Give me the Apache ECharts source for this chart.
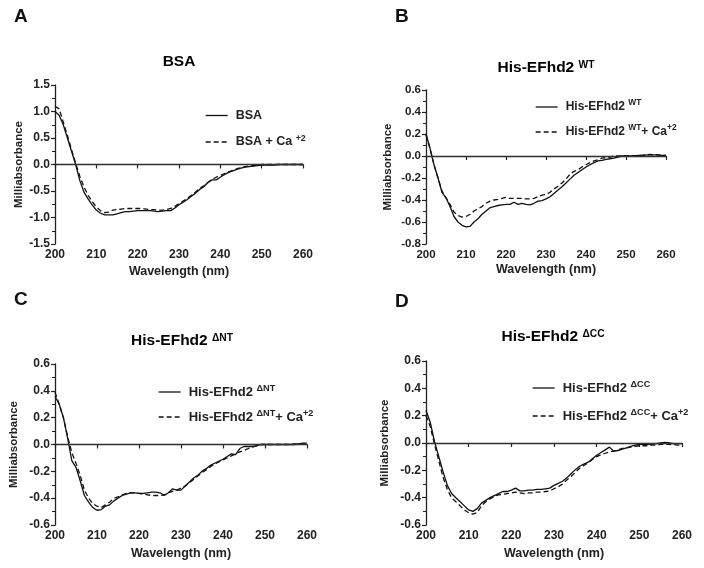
<!DOCTYPE html>
<html><head><meta charset="utf-8">
<script src="https://cdn.jsdelivr.net/npm/echarts@6/dist/echarts.min.js"></script>
<style>html,body{margin:0;padding:0;background:#fff}#c{width:704px;height:568px}</style>
</head><body><div id="c"></div>
<script>
const wavelengths = [200,201,202,203,204,205,206,207,208,209,210,211,212,213,214,215,216,217,218,219,220,221,222,223,224,225,226,227,228,229,230,231,232,233,234,235,236,237,238,239,240,241,242,243,244,245,246,247,248,249,250,251,252,253,254,255,256,257,258,259,260];
const xTicks = [200,210,220,230,240,250,260];

const bsa = [1.00,0.93,0.75,0.50,0.25,0.00,-0.30,-0.52,-0.65,-0.76,-0.86,-0.92,-0.95,-0.95,-0.95,-0.93,-0.91,-0.89,-0.89,-0.88,-0.87,-0.87,-0.87,-0.87,-0.88,-0.89,-0.88,-0.87,-0.87,-0.82,-0.76,-0.71,-0.66,-0.60,-0.54,-0.47,-0.42,-0.34,-0.29,-0.29,-0.24,-0.19,-0.15,-0.12,-0.09,-0.07,-0.05,-0.04,-0.03,-0.02,-0.01,-0.01,-0.01,-0.01,0,0,0,0,0,0,0];
const bsaCa = [1.10,1.05,0.80,0.55,0.28,0.02,-0.22,-0.42,-0.58,-0.70,-0.80,-0.87,-0.91,-0.90,-0.86,-0.85,-0.84,-0.83,-0.83,-0.83,-0.83,-0.83,-0.84,-0.85,-0.85,-0.86,-0.86,-0.85,-0.83,-0.79,-0.74,-0.69,-0.64,-0.58,-0.52,-0.45,-0.40,-0.34,-0.28,-0.24,-0.21,-0.17,-0.14,-0.11,-0.08,-0.06,-0.04,-0.03,-0.02,-0.01,0,0,0,0,0,0,0,0,0,0,0];

const wt = [0.20,0.07,-0.08,-0.20,-0.33,-0.38,-0.46,-0.55,-0.60,-0.63,-0.645,-0.64,-0.60,-0.57,-0.53,-0.50,-0.47,-0.46,-0.45,-0.445,-0.44,-0.44,-0.42,-0.44,-0.43,-0.44,-0.445,-0.43,-0.41,-0.405,-0.39,-0.37,-0.34,-0.31,-0.28,-0.245,-0.21,-0.175,-0.15,-0.125,-0.10,-0.08,-0.06,-0.045,-0.04,-0.03,-0.025,-0.02,-0.01,0,0,0,0,0.005,0.005,0.01,0.01,0.01,0.01,0.005,0.005];
const wtCa = [0.19,0.07,-0.08,-0.20,-0.32,-0.38,-0.44,-0.51,-0.54,-0.555,-0.55,-0.53,-0.50,-0.48,-0.46,-0.43,-0.41,-0.40,-0.395,-0.385,-0.375,-0.385,-0.385,-0.385,-0.385,-0.39,-0.39,-0.385,-0.37,-0.355,-0.35,-0.33,-0.30,-0.275,-0.245,-0.21,-0.165,-0.14,-0.125,-0.10,-0.08,-0.06,-0.045,-0.035,-0.02,-0.015,-0.01,0,0,0,0,0,0,0.005,0.005,0.01,0.015,0.01,0.01,0.005,0.005];

const nt = [0.36,0.30,0.20,0.05,-0.12,-0.17,-0.27,-0.38,-0.43,-0.47,-0.49,-0.485,-0.46,-0.45,-0.42,-0.40,-0.38,-0.37,-0.36,-0.36,-0.365,-0.365,-0.36,-0.355,-0.355,-0.36,-0.38,-0.36,-0.33,-0.34,-0.34,-0.31,-0.28,-0.25,-0.23,-0.20,-0.18,-0.155,-0.14,-0.125,-0.11,-0.09,-0.07,-0.075,-0.03,-0.015,-0.015,-0.015,-0.01,0,0,0,0,0,0,0,0,0,0.005,0.01,0.01];
const ntCa = [0.39,0.30,0.20,0.06,-0.06,-0.14,-0.23,-0.34,-0.40,-0.44,-0.46,-0.47,-0.45,-0.43,-0.40,-0.39,-0.375,-0.365,-0.36,-0.36,-0.365,-0.37,-0.375,-0.38,-0.38,-0.38,-0.375,-0.36,-0.35,-0.34,-0.325,-0.31,-0.285,-0.26,-0.235,-0.21,-0.19,-0.165,-0.145,-0.13,-0.115,-0.10,-0.085,-0.07,-0.055,-0.045,-0.03,-0.02,-0.01,0,0,0,0,0,0,0,0,0.005,0.005,0.005,0.005];

const cc = [0.24,0.15,0.01,-0.10,-0.21,-0.31,-0.37,-0.40,-0.43,-0.46,-0.49,-0.50,-0.48,-0.44,-0.42,-0.40,-0.385,-0.37,-0.355,-0.355,-0.345,-0.33,-0.35,-0.35,-0.345,-0.345,-0.34,-0.34,-0.335,-0.33,-0.31,-0.295,-0.28,-0.255,-0.225,-0.195,-0.17,-0.155,-0.14,-0.115,-0.09,-0.07,-0.05,-0.03,-0.06,-0.055,-0.045,-0.035,-0.025,-0.015,-0.01,-0.01,-0.01,-0.008,-0.005,0,0.005,0,-0.005,-0.005,-0.005];
const ccCa = [0.20,0.12,-0.01,-0.13,-0.25,-0.34,-0.40,-0.43,-0.46,-0.49,-0.51,-0.52,-0.51,-0.46,-0.43,-0.41,-0.39,-0.38,-0.375,-0.37,-0.365,-0.36,-0.365,-0.37,-0.365,-0.365,-0.36,-0.36,-0.355,-0.35,-0.335,-0.32,-0.30,-0.27,-0.245,-0.215,-0.185,-0.165,-0.145,-0.12,-0.10,-0.085,-0.075,-0.065,-0.06,-0.05,-0.04,-0.035,-0.03,-0.025,-0.02,-0.02,-0.02,-0.015,-0.015,-0.01,-0.01,-0.01,-0.012,-0.015,-0.015];

const panelLetters = ['A','B','C','D'];
const yTicksA = [-1.5,-1.0,-0.5,0.0,0.5,1.0,1.5];
const yTicksB = [-0.8,-0.6,-0.4,-0.2,0.0,0.2,0.4,0.6];
const yTicksCD = [-0.6,-0.4,-0.2,0.0,0.2,0.4,0.6];

const FONT = '"Liberation Sans", Arial, sans-serif';
const chart = echarts.init(document.getElementById('c'), null, {renderer:'canvas'});

const panels = [
  {grid:{left:55,top:85,width:248,height:159}, yt:yTicksA, iv:0.5, s1:bsa, s2:bsaCa,
   n1:'BSA', n2:'BSA + Ca+2', r1:'{n|BSA}', r2:'{n|BSA + Ca }{s|+2}',
   leg:{x:205,y1:117,y2:142}, nameGapY:30, nameGapX:21, tick:12, legFs:12.5},
  {grid:{left:426,top:90,width:240,height:154}, yt:yTicksB, iv:0.2, s1:wt, s2:wtCa,
   n1:'His-EFhd2 WT', n2:'His-EFhd2 WT+ Ca+2', r1:'{n|His-EFhd2 }{s|WT}', r2:'{n|His-EFhd2 }{s|WT}{n|+ Ca}{s|+2}',
   leg:{x:535,y1:107,y2:132}, nameGapY:32, nameGapX:19, tick:11.5, legFs:12},
  {grid:{left:55,top:364,width:252,height:161}, yt:yTicksCD, iv:0.2, s1:nt, s2:ntCa,
   n1:'His-EFhd2 ΔNT', n2:'His-EFhd2 ΔNT+ Ca+2', r1:'{n|His-EFhd2 }{s|ΔNT}', r2:'{n|His-EFhd2 }{s|ΔNT}{n|+ Ca}{s|+2}',
   leg:{x:158,y1:392,y2:417}, nameGapY:35, nameGapX:22, tick:12, legFs:13},
  {grid:{left:426,top:361,width:256,height:164}, yt:yTicksCD, iv:0.2, s1:cc, s2:ccCa,
   n1:'His-EFhd2 ΔCC', n2:'His-EFhd2 ΔCC+ Ca+2', r1:'{n|His-EFhd2 }{s|ΔCC}', r2:'{n|His-EFhd2 }{s|ΔCC}{n|+ Ca}{s|+2}',
   leg:{x:532,y1:388,y2:416}, nameGapY:35, nameGapX:22, tick:12, legFs:13}
];

const grids=[], xAxes=[], yAxes=[], series=[], legends=[];
panels.forEach((p,i)=>{
  grids.push(p.grid);
  const axisLine = {show:true, lineStyle:{color:'#222', width:1.3}};
  xAxes.push({type:'value', gridIndex:i, min:xTicks[0], max:xTicks[xTicks.length-1], interval:10,
    axisLine, axisTick:{show:true, length:4, lineStyle:{color:'#222', width:1.2}},
    axisLabel:{fontFamily:FONT, fontWeight:'bold', fontSize:p.tick, color:'#222', margin:5},
    splitLine:{show:false},
    name:'Wavelength (nm)', nameLocation:'middle', nameGap:p.nameGapX,
    nameTextStyle:{fontFamily:FONT, fontWeight:'bold', fontSize:12.5, color:'#222'}});
  yAxes.push({type:'value', gridIndex:i, min:p.yt[0], max:p.yt[p.yt.length-1], interval:p.iv,
    axisLine, axisTick:{show:true, length:4, lineStyle:{color:'#222', width:1.2}},
    minorTick:{show:true, splitNumber:2, length:3, lineStyle:{color:'#222', width:1}},
    axisLabel:{fontFamily:FONT, fontWeight:'bold', fontSize:p.tick, color:'#222', margin:5, formatter:v=>v.toFixed(1)},
    splitLine:{show:false},
    name:'Milliabsorbance', nameLocation:'middle', nameGap:p.nameGapY,
    nameTextStyle:{fontFamily:FONT, fontWeight:'bold', fontSize:11.5, color:'#222'}});
  const toData = arr => wavelengths.map((w,k)=>[w, arr[k]]);
  series.push({type:'line', name:p.n1, xAxisIndex:i, yAxisIndex:i, data:toData(p.s1), symbol:'none', smooth:false,
    lineStyle:{color:'#111', width:1.3, type:'solid'}, itemStyle:{color:'#111'}, z:3,
    markLine:{silent:true, symbol:'none', label:{show:false}, lineStyle:{color:'#333', width:1.2, type:'solid'}, data:[{yAxis:0}]}});
  series.push({type:'line', name:p.n2, xAxisIndex:i, yAxisIndex:i, data:toData(p.s2), symbol:'none', smooth:false,
    lineStyle:{color:'#111', width:1.3, type:[5,3]}, itemStyle:{color:'#111'}, z:3});
  const rich = {n:{fontFamily:FONT, fontWeight:'bold', fontSize:p.legFs, color:'#222', lineHeight:16},
                s:{fontFamily:FONT, fontWeight:'bold', fontSize:p.legFs*0.7, color:'#222', verticalAlign:'top', lineHeight:10}};
  [[p.n1,p.r1,p.leg.y1],[p.n2,p.r2,p.leg.y2]].forEach(([nm,rt,yy])=>{
    legends.push({data:[nm], left:p.leg.x, top:yy-8, padding:0, itemWidth:22, itemHeight:16, itemGap:0,
      selectedMode:false, formatter:()=>rt, itemStyle:{opacity:0, borderWidth:0},
      lineStyle:{width:1.3},
      textStyle:{rich, padding:[0,0,0,3]}});
  });
});

const titleRich = fs => ({n:{fontFamily:FONT, fontWeight:'bold', fontSize:fs, color:'#222'},
                          s:{fontFamily:FONT, fontWeight:'bold', fontSize:fs*0.66, color:'#222', verticalAlign:'top'}});
const titles = [
  {x:179, y:62, t:'{n|BSA}'},
  {x:546, y:68, t:'{n|His-EFhd2 }{s|WT}'},
  {x:182, y:341, t:'{n|His-EFhd2 }{s|ΔNT}'},
  {x:553, y:337, t:'{n|His-EFhd2 }{s|ΔCC}'}
];
const graphics = [];
titles.forEach(t=>graphics.push({type:'text', x:t.x, y:t.y, style:{text:t.t, rich:titleRich(15.5), align:'center', verticalAlign:'middle'}}));
const letterPos = [[14,7],[395,7],[14,290],[395,292]];
panelLetters.forEach((L,i)=>graphics.push({type:'text', x:letterPos[i][0], y:letterPos[i][1],
  style:{text:L, font:'bold 19px '+FONT, fill:'#111'}}));

chart.setOption({
  animation:false, backgroundColor:'#fff',
  grid:grids, xAxis:xAxes, yAxis:yAxes, series, legend:legends, graphic:graphics
});
</script></body></html>
